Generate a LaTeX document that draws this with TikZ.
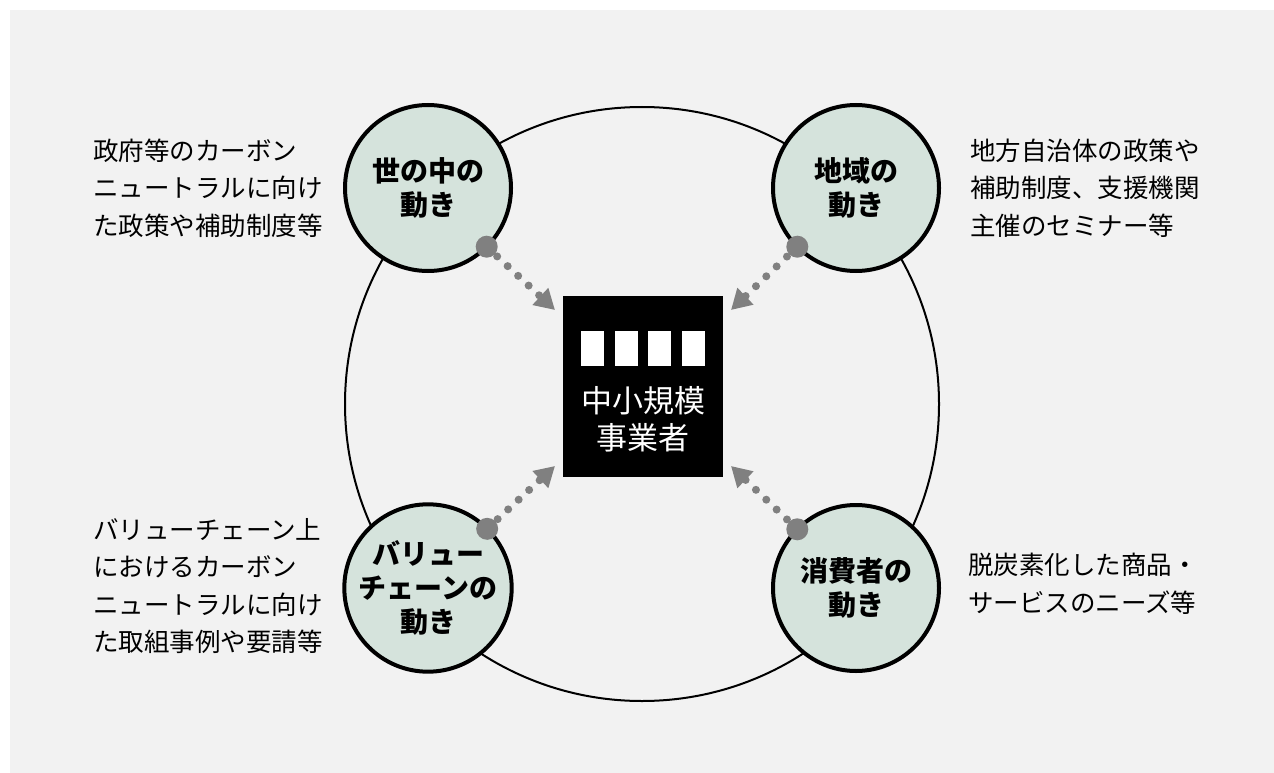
\documentclass[tikz,border=0pt]{standalone}
\usepackage{fontspec}
\setmainfont{Noto Sans CJK JP}
\usetikzlibrary{arrows.meta}
\definecolor{bgc}{HTML}{F2F2F2}
\definecolor{cfill}{HTML}{D5E3DC}
\definecolor{dotc}{HTML}{808080}
\begin{document}
\begin{tikzpicture}[x=1pt,y=-1pt,
 topic/.style={circle, draw=black, line width=4pt, fill=cfill, minimum size=166pt, inner sep=0pt, outer sep=0pt, align=center, font=\fontsize{28}{34}\selectfont\bfseries},
 side/.style={inner sep=0pt, align=left, font=\fontsize{25.5}{37.5}\selectfont, anchor=west},
 conn/.style={dotc, line width=8pt, line cap=round, dash pattern=on 0pt off 14.3pt, -{Triangle[length=20pt,width=22pt]}},
 bigdot/.style={circle, fill=dotc, minimum size=22pt, inner sep=0pt},
 block/.style={fill=white, draw=none, minimum width=23pt, minimum height=35pt, inner sep=0pt}
]
\useasboundingbox (0,0) rectangle (1274,773);
\fill[white] (0,0) rectangle (1274,773);
\fill[bgc] (10,10) rectangle (1274,773);
% ring
\node[circle, draw=black, line width=2pt, minimum size=594pt, inner sep=0pt] (ring) at (642,404) {};
% topic circles
\node[topic] (c1) at (428,188) {世の中の\\動き};
\node[topic] (c2) at (856,188) {地域の\\動き};
\node[topic] (c3) at (428,588) {バリュー\\チェーンの\\動き};
\node[topic] (c4) at (856,588) {消費者の\\動き};
% center box
\node[fill=black, minimum width=160pt, minimum height=181pt, inner sep=0pt] (biz) at (643,386.5) {};
\node[block] (b1) at (592.5,348.5) {};
\node[block] (b2) at (626,348.5) {};
\node[block] (b3) at (659.5,348.5) {};
\node[block] (b4) at (693.5,348.5) {};
\node[text=white, inner sep=0pt, align=center, font=\fontsize{31}{37}\selectfont] (bizlabel) at (643,419) {中小規模\\事業者};
% arrow tips
\coordinate (t1) at (555,310);
\coordinate (t2) at (731,310);
\coordinate (t3) at (555,466);
\coordinate (t4) at (731,466);
% dots
\node[bigdot] (d1) at (c1.south east) {};
\node[bigdot] (d2) at (c2.south west) {};
\node[bigdot] (d3) at (c3.north east) {};
\node[bigdot] (d4) at (c4.north west) {};
\draw[conn] (d1.center) -- (t1);
\draw[conn] (d2.center) -- (t2);
\draw[conn] (d3.center) -- (t3);
\draw[conn] (d4.center) -- (t4);
% side texts
\node[side] (s1) at (93,188) {政府等のカーボン\\ニュートラルに向け\\た政策や補助制度等};
\node[side] (s2) at (970,188) {地方自治体の政策や\\補助制度、支援機関\\主催のセミナー等};
\node[side] (s3) at (93,586) {バリューチェーン上\\におけるカーボン\\ニュートラルに向け\\た取組事例や要請等};
\node[side] (s4) at (968,584) {脱炭素化した商品・\\サービスのニーズ等};
\end{tikzpicture}
\end{document}
